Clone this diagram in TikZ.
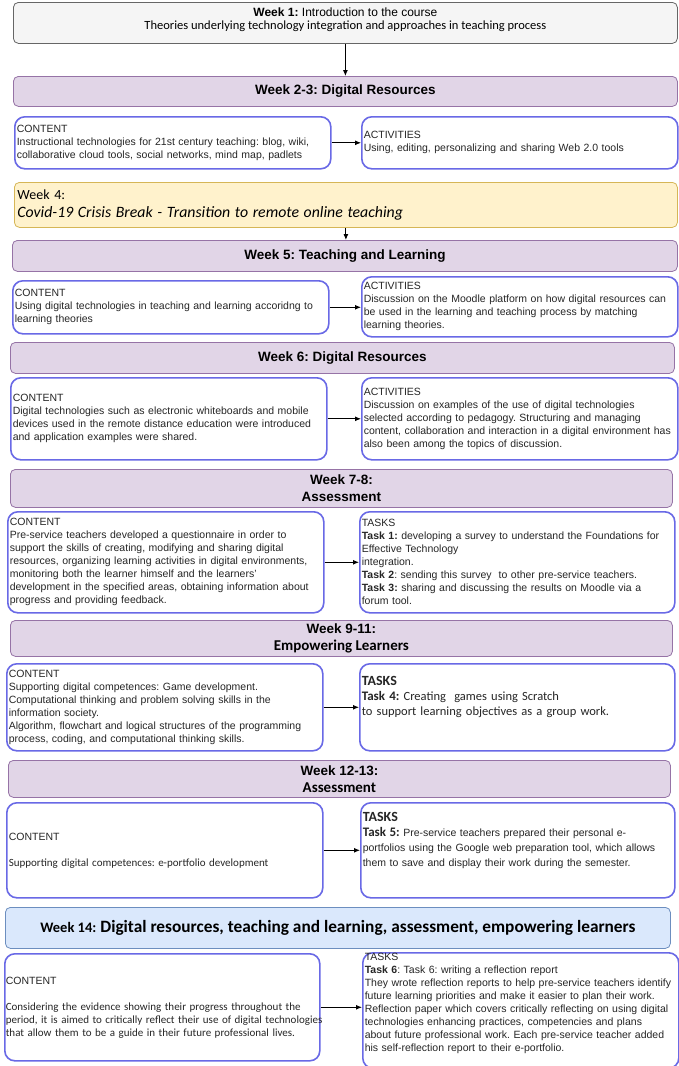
\documentclass[tikz,border=0pt]{standalone}
\usepackage{fontspec}
\setmainfont{Liberation Sans}
\newfontfamily\calibri{Carlito}
\usetikzlibrary{arrows.meta}
\frenchspacing
\definecolor{greyfill}{HTML}{F5F5F5}
\definecolor{greyline}{HTML}{666666}
\definecolor{lilacfill}{HTML}{E1D5E7}
\definecolor{lilacline}{HTML}{9673A6}
\definecolor{sandfill}{HTML}{FFF2CC}
\definecolor{sandline}{HTML}{D6B656}
\definecolor{skyfill}{HTML}{DAE8FC}
\definecolor{skyline}{HTML}{6C8EBF}
\definecolor{boxblue}{RGB}{105,105,230}
\tikzset{
  weekhead/.style={draw=lilacline, fill=lilacfill, line width=0.8pt, rounded corners=5pt,
    anchor=north west, inner sep=0pt, align=center, font=\bfseries\fontsize{13.5}{17}\selectfont},
  infobox/.style={draw=boxblue, fill=white, line width=1.6pt, rounded corners=10pt,
    anchor=north west, inner xsep=2pt, inner ysep=0pt, align=left, text=black!85,
    font=\fontsize{10.5}{13}\selectfont, execute at begin node={\hyphenpenalty=10000}},
  link/.style={-{Latex[length=6pt,width=5pt]}, line width=0.9pt}
}
\begin{document}
\begin{tikzpicture}[x=1pt,y=-1pt]
\useasboundingbox (0,0) rectangle (679,1066);
\fill[white] (0,0) rectangle (679,1066);

\node[weekhead, draw=greyline, fill=greyfill, minimum width=664pt, minimum height=41pt,
  font=\fontsize{12}{13}\selectfont] (wk1) at (13,2)
  {\textbf{Week 1:} Introduction to the course\\
   {\calibri\fontsize{12.5}{14}\selectfont Theories underlying technology integration and approaches in teaching process}\\[-4pt]\mbox{}};

\node[weekhead, minimum width=664pt, minimum height=30pt] (wk23) at (13,76) {Week 2-3: Digital Resources};
\node[infobox, text width=312pt, minimum height=52pt] (c23) at (14,116)
  {CONTENT\\
   Instructional technologies for 21st century teaching: blog, wiki,\\
   collaborative cloud tools, social networks, mind map, padlets};
\node[infobox, text width=312pt, minimum height=52pt] (a23) at (361,116)
  {ACTIVITIES\\
   Using, editing, personalizing and sharing Web 2.0 tools};

\node[weekhead, draw=sandline, fill=sandfill, minimum width=663pt, minimum height=45pt,
  align=left, text width=657pt, inner xsep=3pt, font=\calibri\fontsize{14}{18}\selectfont] (wk4) at (14,182)
  {Week 4:\\
   {\fontsize{15.8}{18}\selectfont\itshape Covid-19 Crisis Break - Transition to remote online teaching}};

\node[weekhead, minimum width=665pt, minimum height=31pt] (wk5) at (12,240) {Week 5: Teaching and Learning};
\node[infobox, text width=312pt, minimum height=53pt] (c5) at (12,280)
  {CONTENT\\
   Using digital technologies in teaching and learning accoridng to\\
   learning theories};
\node[infobox, text width=312pt, minimum height=60pt] (a5) at (361,276)
  {ACTIVITIES\\
   Discussion on the Moodle platform on how digital resources can\\
   be used in the learning and teaching process by matching\\
   learning theories.};

\node[weekhead, minimum width=664pt, minimum height=31pt] (wk6) at (10,342) {Week 6: Digital Resources};
\node[infobox, text width=312pt, minimum height=82pt] (c6) at (10,377)
  {CONTENT\\
   Digital technologies such as electronic whiteboards and mobile\\
   devices used in the remote distance education were introduced\\
   and application examples were shared.};
\node[infobox, text width=312pt, minimum height=82pt] (a6) at (361,377)
  {ACTIVITIES\\
   Discussion on examples of the use of digital technologies\\
   selected according to pedagogy. Structuring and managing\\
   content, collaboration and interaction in a digital environment has\\
   also been among the topics of discussion.};

\node[weekhead, minimum width=662pt, minimum height=38pt] (wk78) at (10,469) {Week 7-8:\\ Assessment};
\node[infobox, text width=312pt, minimum height=101pt] (c78) at (7,511)
  {CONTENT\\
   Pre-service teachers developed a questionnaire in order to\\
   support the skills of creating, modifying and sharing digital\\
   resources, organizing learning activities in digital environments,\\
   monitoring both the learner himself and the learners'\\
   development in the specified areas, obtaining information about\\
   progress and providing feedback.};
\node[infobox, text width=311pt, minimum height=101pt] (t78) at (359,511)
  {TASKS\\
   \textbf{Task 1:} developing a survey to understand the Foundations for\\
   Effective Technology\\
   integration.\\
   \textbf{Task 2}: sending this survey\ \ to other pre-service teachers.\\
   \textbf{Task 3:} sharing and discussing the results on Moodle via a\\
   forum tool.};

\node[weekhead, minimum width=662pt, minimum height=36pt] (wk911) at (10,620)
  {Week 9-11:\\ {\calibri\fontsize{15}{17}\selectfont Empowering Learners}};
\node[infobox, text width=312pt, minimum height=87pt] (c911) at (6,663)
  {CONTENT\\
   Supporting digital competences: Game development.\\
   Computational thinking and problem solving skills in the\\
   information society.\\
   Algorithm, flowchart and logical structures of the programming\\
   process, coding, and computational thinking skills.};
\node[infobox, text width=311pt, minimum height=87pt, font=\calibri\fontsize{12.5}{15}\selectfont] (t911) at (359,663)
  {{\bfseries\fontsize{14}{15}\selectfont TASKS}\\
   {\bfseries\fontsize{13}{15}\selectfont Task 4:} Creating\ \ games using Scratch\\
   to support learning objectives as a group work.\\[8pt]\mbox{}};

\node[weekhead, minimum width=662pt, minimum height=37pt] (wk1213) at (8,760)
  {Week 12-13:\\ {\calibri\fontsize{15}{17}\selectfont Assessment}};
\node[infobox, text width=312pt, minimum height=95pt] (c1213) at (6,802)
  {CONTENT\\[13pt]
   {\calibri\fontsize{11}{13}\selectfont Supporting digital competences: e-portfolio development}};
\node[infobox, text width=310pt, minimum height=95pt, font=\fontsize{10.5}{15}\selectfont] (t1213) at (360,802)
  {{\calibri\bfseries\fontsize{14}{15}\selectfont TASKS}\\
   {\calibri\bfseries\fontsize{13}{15}\selectfont Task 5:} Pre-service teachers prepared their personal e-\\
   portfolios using the Google web preparation tool, which allows\\
   them to save and display their work during the semester.\\[6pt]\mbox{}};

\node[weekhead, draw=skyline, fill=skyfill, minimum width=665pt, minimum height=41pt,
  font=\calibri\bfseries\fontsize{17.3}{18}\selectfont] (wk14) at (5,907)
  {{\fontsize{14.5}{18}\selectfont Week 14:} Digital resources, teaching and learning, assessment, empowering learners};
\node[infobox, text width=313pt, inner xsep=1pt, minimum height=107pt] (c14) at (4,953)
  {CONTENT\\[13pt]
   {\calibri\fontsize{11}{13}\selectfont
   \makebox[\linewidth][s]{Considering the evidence showing their progress throughout the}\\
   \makebox[\linewidth][s]{period, it is aimed to critically reflect their use of digital technologies}\\
   that allow them to be a guide in their future professional lives.}};
\node[infobox, text width=312pt, minimum height=110pt] (t14) at (362,952)
  {TASKS\\
   \textbf{Task 6}: Task 6: writing a reflection report\\
   They wrote reflection reports to help pre-service teachers identify\\
   future learning priorities and make it easier to plan their work.\\
   Reflection paper which covers critically reflecting on using digital\\
   technologies enhancing practices, competencies and plans\\
   about future professional work. Each pre-service teacher added\\
   his self-reflection report to their e-portfolio.\\[4pt]\mbox{}};

\draw[link] (wk1.south) -- (wk1.south |- wk23.north);
\draw[link] (wk4.south) -- (wk4.south |- wk5.north);
\foreach \a/\b in {c23/a23, c5/a5, c6/a6, c78/t78, c911/t911, c1213/t1213, c14/t14}
  \draw[link] (\a.east) -- (\a.east -| \b.west);
\end{tikzpicture}
\end{document}
